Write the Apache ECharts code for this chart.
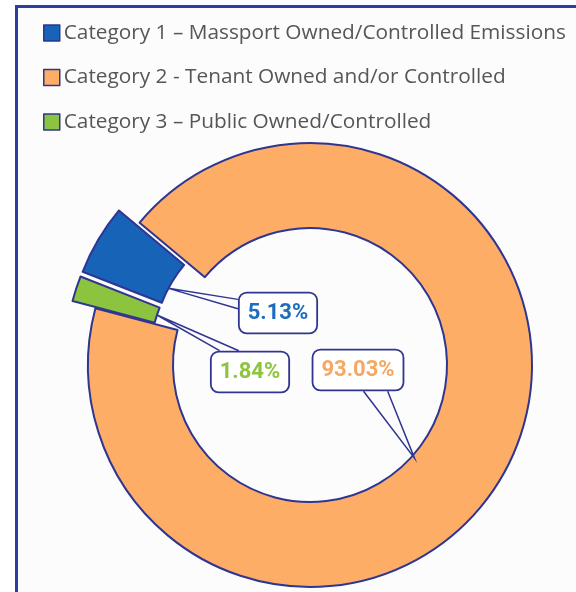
<!DOCTYPE html>
<html>
<head>
<meta charset="utf-8">
<script src="https://cdn.jsdelivr.net/npm/echarts@6/dist/echarts.min.js"></script>
<style>
html,body{margin:0;padding:0;background:#fff;}
#chart{width:576px;height:592px;}
</style>
</head>
<body>
<div id="chart"></div>
<script>
// ---- data ----
const categories = [
  'Category 1 – Massport Owned/Controlled Emissions',
  'Category 2 - Tenant Owned and/or Controlled',
  'Category 3 – Public Owned/Controlled'
];
const values = [5.13, 93.03, 1.84];
const exploded = [true, false, true];

// ---- styles / layout ----
const sliceColors = ['#1763b8', '#fdad65', '#8cc43f'];
const labelColors = ['#1e6cba', '#f6a862', '#8dc440'];
const NAVY = '#2e3592';
const CX = 310, CY = 365, R0 = 137, R1 = 222;
const START_ANGLE = 158.6;
const OFFSET = 24;
// label box centers relative to pie center, tail side and tail base fractions, tip position fraction
const labelPos = [
  { dx: -32, dy: -52, side: 'left', a: 0.18, b: 0.4, f: 0.36, rOff: 0 },
  { dx: 48, dy: 5, side: 'bottom', a: 0.56, b: 0.82, f: 0.543, rOff: 3 },
  { dx: -60, dy: 7, side: 'top', a: 0.12, b: 0.36, f: 0.5, rOff: 0 }
];

const total = values.reduce((s, v) => s + v, 0);
function tipPoint(i, f, extra) {
  let acc = 0;
  for (let j = 0; j < i; j++) acc += values[j];
  const s = START_ANGLE - acc / total * 360;
  const span = values[i] / total * 360;
  const th = (s - f * span) * Math.PI / 180;
  const mid = (s - span / 2) * Math.PI / 180;
  const off = exploded[i] ? OFFSET : 0;
  const r = R0 + extra;
  return [CX + r * Math.cos(th) + off * Math.cos(mid), CY - r * Math.sin(th) - off * Math.sin(mid)];
}

const chart = echarts.init(document.getElementById('chart'), null, { renderer: 'canvas' });
const option = {
  backgroundColor: '#ffffff',
  animation: false,
  graphic: [{
    type: 'rect', left: 15, top: 5, z: -10, silent: true,
    shape: { width: 620, height: 640 },
    style: { fill: '#fcfcfd', stroke: '#2b3f9f', lineWidth: 3 }
  }],
  legend: {
    orient: 'vertical', left: 38, top: 16,
    itemWidth: 16, itemHeight: 16, itemGap: 20.5,
    icon: 'rect', selectedMode: false,
    itemStyle: { borderColor: NAVY, borderWidth: 1.5 },
    textStyle: { color: '#555659', fontFamily: 'Open Sans', fontSize: 20.8, lineHeight: 24, padding: [0, 0, 0, -1] },
    data: categories
  },
  series: [{
    type: 'pie',
    center: [CX, CY],
    radius: [R0, R1],
    startAngle: START_ANGLE,
    clockwise: true,
    selectedMode: 'multiple',
    selectedOffset: OFFSET,
    emphasis: { disabled: true },
    silent: true,
    itemStyle: { borderColor: NAVY, borderWidth: 2 },
    label: { show: false },
    labelLine: { show: false },
    data: categories.map((name, i) => ({
      name: name,
      value: values[i],
      selected: exploded[i],
      itemStyle: { color: sliceColors[i] }
    }))
  }, {
    // same geometry, invisible; carries the callout labels
    type: 'pie',
    center: [CX, CY],
    radius: [R0, R1],
    startAngle: START_ANGLE,
    clockwise: true,
    silent: true,
    z: 5,
    emphasis: { disabled: true },
    avoidLabelOverlap: false,
    itemStyle: { color: 'rgba(0,0,0,0)', borderWidth: 0 },
    label: {
      show: true, position: 'outside', formatter: '{c}%',
      fontFamily: 'Roboto', fontSize: 22, lineHeight: 24, fontWeight: 'bold',
      backgroundColor: '#ffffff', borderColor: NAVY, borderWidth: 1.8, borderRadius: 7,
      padding: [8, 8, 7, 8]
    },
    labelLine: { show: true, lineStyle: { color: NAVY, width: 1.5 } },
    labelLayout: function (p) {
      const L = labelPos[p.dataIndex];
      const w = p.labelRect.width, h = p.labelRect.height;
      const bx = CX + L.dx, by = CY + L.dy;
      const left = bx - w / 2, top = by - h / 2;
      let b1, b2;
      if (L.side === 'left') { b1 = [left, top + L.a * h]; b2 = [left, top + L.b * h]; }
      else if (L.side === 'top') { b1 = [left + L.a * w, top]; b2 = [left + L.b * w, top]; }
      else { b1 = [left + L.a * w, top + h]; b2 = [left + L.b * w, top + h]; }
      const tip = tipPoint(p.dataIndex, L.f, L.rOff);
      return { x: bx, y: by, align: 'center', verticalAlign: 'middle', labelLinePoints: [b1, tip, b2] };
    },
    data: categories.map((name, i) => ({
      name: name,
      value: values[i],
      label: { color: labelColors[i] }
    }))
  }]
};
chart.setOption(option);
</script>
</body>
</html>
